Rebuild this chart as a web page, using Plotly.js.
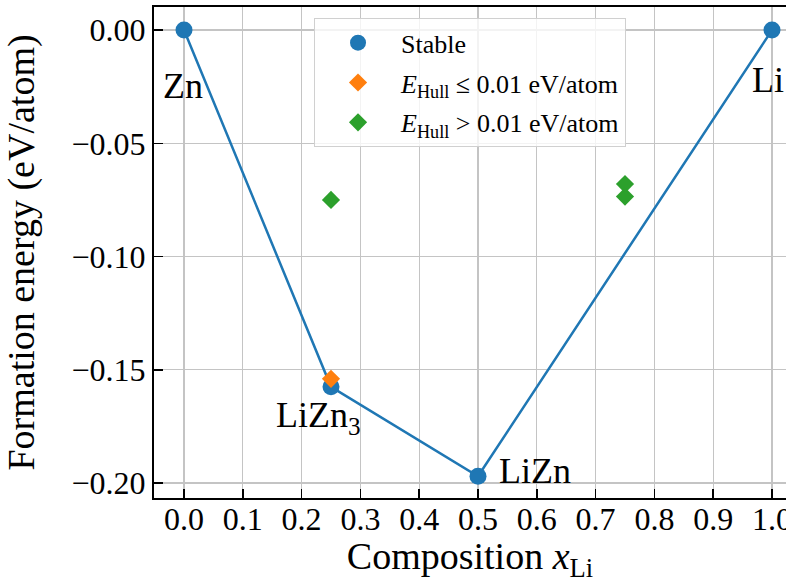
<!DOCTYPE html>
<html>
<head>
<meta charset="utf-8">
<script src="https://cdn.plot.ly/plotly-3.0.1.min.js"></script>
<style>html,body{margin:0;padding:0;overflow:hidden;background:#fff;}</style>
</head>
<body>
<div id="chart" style="width:786px;height:583px;"></div>
<script>
// Stable phases (on the convex hull)
const stableX = [0.0, 0.25, 0.5, 1.0];
const stableY = [0.0, -0.1575, -0.197, 0.0];
const stableNames = ['Zn', 'LiZn<sub>3</sub>', 'LiZn', 'Li'];
// Near-hull phases (E_Hull <= 0.01 eV/atom)
const nearX = [0.25];
const nearY = [-0.154];
// Above-hull phases (E_Hull > 0.01 eV/atom)
const aboveX = [0.25, 0.75, 0.75];
const aboveY = [-0.075, -0.068, -0.0735];
// Tick values
const xTicks = [0.0, 0.1, 0.2, 0.3, 0.4, 0.5, 0.6, 0.7, 0.8, 0.9, 1.0];
const yTicks = [-0.20, -0.15, -0.10, -0.05, 0.00];

const FONT = 'Liberation Serif, Times New Roman, serif';

const traces = [
  {x: stableX, y: stableY, mode: 'lines', line: {color: '#1f77b4', width: 2.5}, showlegend: false, hoverinfo: 'skip'},
  {x: stableX, y: stableY, mode: 'markers', name: 'Stable', legendgroup: 'a',
   marker: {color: '#1f77b4', size: 17, symbol: 'circle', line: {width: 0}}},
  {x: nearX, y: nearY, mode: 'markers', name: '<i>E</i><sub>Hull</sub> ≤ 0.01 eV/atom', legendgroup: 'b',
   marker: {color: '#ff7f0e', size: 14, symbol: 'diamond', line: {width: 0}}},
  {x: aboveX, y: aboveY, mode: 'markers', name: '<i>E</i><sub>Hull</sub> &gt; 0.01 eV/atom', legendgroup: 'c',
   marker: {color: '#2ca02c', size: 14, symbol: 'diamond', line: {width: 0}}}
];

// label offsets (pixels) for each stable phase
const labelShiftX = [-1, -12, 19, -4];
const labelShiftY = [-56, -31, 5, -50];
const labelAnchor = ['center', 'center', 'left', 'center'];

const annotations = stableX.map((x, i) => ({
  x: x, y: stableY[i], xref: 'x', yref: 'y', text: stableNames[i],
  showarrow: false, xanchor: labelAnchor[i], yanchor: 'middle',
  xshift: labelShiftX[i], yshift: labelShiftY[i],
  font: {family: FONT, size: 36, color: '#000'}
}));

const layout = {
  width: 786, height: 583,
  margin: {l: 154, r: 0, t: 7, b: 85, pad: 0},
  paper_bgcolor: '#fff', plot_bgcolor: '#fff',
  font: {family: FONT, color: '#000'},
  showlegend: true,
  legend: {
    x: 0.2532, y: 0.977, xanchor: 'left', yanchor: 'top',
    bgcolor: 'rgba(255,255,255,0.8)', bordercolor: '#d0d0d0', borderwidth: 1,
    font: {family: FONT, size: 26, color: '#000'}, itemwidth: 76, tracegroupgap: 3
  },
  xaxis: {
    range: [-0.051, 1.0238], tickvals: xTicks, tickformat: '.1f',
    ticks: 'inside', ticklen: 9, tickwidth: 1.5, tickcolor: '#000',
    showline: true, linecolor: '#000', linewidth: 2, mirror: true,
    showgrid: true, gridcolor: '#c4c4c4', gridwidth: 1.3, zeroline: false,
    ticklabeloverflow: 'allow', ticklabelstandoff: -8,
    tickfont: {family: FONT, size: 32, color: '#000'},
    title: {text: 'Composition <i>x</i><sub>Li</sub>', font: {family: FONT, size: 38, color: '#000'}, standoff: 20}
  },
  yaxis: {
    range: [-0.2066, 0.0102], tickvals: yTicks, tickformat: '.2f',
    ticks: 'inside', ticklen: 9, tickwidth: 1.5, tickcolor: '#000',
    showline: true, linecolor: '#000', linewidth: 2, mirror: false,
    showgrid: true, gridcolor: '#c4c4c4', gridwidth: 1.3, zeroline: false,
    tickfont: {family: FONT, size: 32, color: '#000'},
    title: {text: 'Formation energy (eV/atom)', font: {family: FONT, size: 38, color: '#000'}, standoff: 32}
  },
  annotations: annotations
};

Plotly.newPlot('chart', traces, layout, {displayModeBar: false, staticPlot: true});
</script>
</body>
</html>
